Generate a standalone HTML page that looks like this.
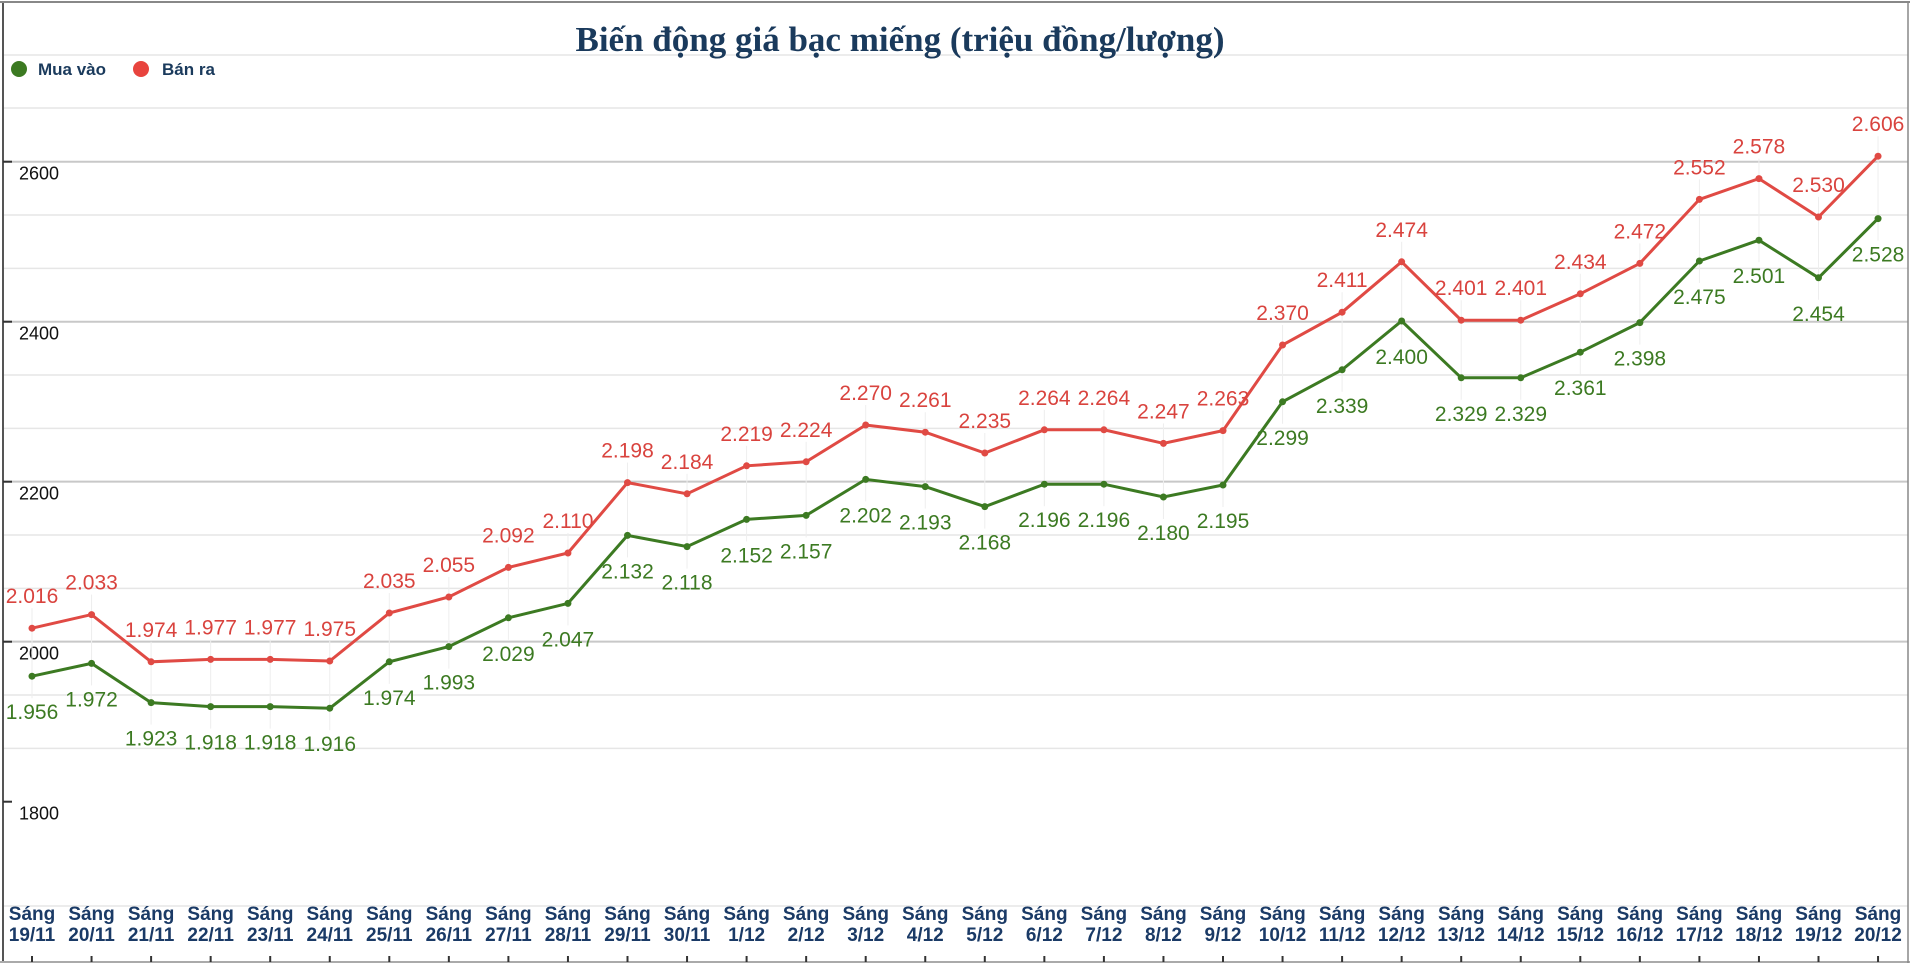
<!DOCTYPE html>
<html><head><meta charset="utf-8"><style>
html,body{margin:0;padding:0;background:#fff;}
svg{display:block;}
</style></head><body>
<svg id="c" width="1910" height="965" xmlns="http://www.w3.org/2000/svg"></svg>
<script>
const buy=[1956,1972,1923,1918,1918,1916,1974,1993,2029,2047,2132,2118,2152,2157,2202,2193,2168,2196,2196,2180,2195,2299,2339,2400,2329,2329,2361,2398,2475,2501,2454,2528];
const sell=[2016,2033,1974,1977,1977,1975,2035,2055,2092,2110,2198,2184,2219,2224,2270,2261,2235,2264,2264,2247,2263,2370,2411,2474,2401,2401,2434,2472,2552,2578,2530,2606];
const days=["19/11","20/11","21/11","22/11","23/11","24/11","25/11","26/11","27/11","28/11","29/11","30/11","1/12","2/12","3/12","4/12","5/12","6/12","7/12","8/12","9/12","10/12","11/12","12/12","13/12","14/12","15/12","16/12","17/12","18/12","19/12","20/12"];
const X=i=>32+i*59.55, Y=v=>641-(v-2000)*0.8;
let s='<rect x="0" y="0" width="1910" height="965" fill="#fff"/>';
[55,108].forEach(y=>s+=`<line x1="4" x2="1908" y1="${y}" y2="${y}" stroke="#e6e6e6" stroke-width="1.5"/>`);
for(let k=0;k<12;k++){let y=161.7+k*53.33;let major=(k%3==0);s+=`<line x1="4" x2="1908" y1="${y}" y2="${y}" stroke="${major?'#c8c8c8':'#e6e6e6'}" stroke-width="${major?2:1.5}"/>`;}
s+=`<line x1="4" x2="1908" y1="906" y2="906" stroke="#e6e6e6" stroke-width="1.5"/>`;
s+=`<line x1="3" y1="2" x2="3" y2="963" stroke="#555" stroke-width="2"/><line x1="0" y1="2" x2="1910" y2="2" stroke="#888" stroke-width="2"/><line x1="0" y1="962" x2="1910" y2="962" stroke="#aaa" stroke-width="2"/><line x1="1908" y1="2" x2="1908" y2="963" stroke="#888" stroke-width="1.5"/>`;
[[2600,161.7],[2400,321.7],[2200,481.7],[2000,641.7],[1800,801.7]].forEach(([v,y])=>{s+=`<line x1="3" x2="12" y1="${y}" y2="${y}" stroke="#333" stroke-width="2"/><text x="19" y="${y+18}" font-family="Liberation Sans,sans-serif" font-size="18" fill="#111">${v}</text>`;});
for(let i=0;i<32;i++){s+=`<line x1="${X(i)}" x2="${X(i)}" y1="${Y(sell[i])-20}" y2="${Y(buy[i])+22}" stroke="#eee" stroke-width="1"/>`;}
function series(d,c){let p=d.map((v,i)=>X(i).toFixed(1)+','+Y(v).toFixed(1)).join(' ');s+=`<polyline points="${p}" fill="none" stroke="${c}" stroke-width="3"/>`;d.forEach((v,i)=>s+=`<circle cx="${X(i)}" cy="${Y(v)}" r="3.5" fill="${c}"/>`);}
series(sell,'#e04a44');series(buy,'#3c7a22');
const fmt=v=>(v/1000).toFixed(3);
sell.forEach((v,i)=>s+=`<text x="${X(i)}" y="${Y(v)-25}" text-anchor="middle" font-family="Liberation Sans,sans-serif" font-size="21" fill="#d9433e">${fmt(v)}</text>`);
buy.forEach((v,i)=>s+=`<text x="${X(i)}" y="${Y(v)+43}" text-anchor="middle" font-family="Liberation Sans,sans-serif" font-size="21" fill="#3c7a22">${fmt(v)}</text>`);
days.forEach((d,i)=>{s+=`<text x="${X(i)}" y="920" text-anchor="middle" font-family="Liberation Sans,sans-serif" font-weight="bold" font-size="19" fill="#1a3a66">Sáng</text><text x="${X(i)}" y="941" text-anchor="middle" font-family="Liberation Sans,sans-serif" font-weight="bold" font-size="19" fill="#1a3a66">${d}</text><line x1="${X(i)}" x2="${X(i)}" y1="956" y2="962" stroke="#333" stroke-width="2"/>`;});
s+=`<text x="900" y="51" text-anchor="middle" font-family="Liberation Serif,serif" font-weight="bold" font-size="35" fill="#1a3a5c">Biến động giá bạc miếng (triệu đồng/lượng)</text>`;
s+=`<circle cx="19" cy="69" r="8" fill="#3c7a22"/><text x="38" y="75" font-family="Liberation Sans,sans-serif" font-weight="bold" font-size="17" fill="#1a3a5c">Mua vào</text>`;
s+=`<circle cx="141" cy="69" r="8" fill="#e8443e"/><text x="162" y="75" font-family="Liberation Sans,sans-serif" font-weight="bold" font-size="17" fill="#1a3a5c">Bán ra</text>`;
document.getElementById('c').innerHTML=s;
</script>
</body></html>
